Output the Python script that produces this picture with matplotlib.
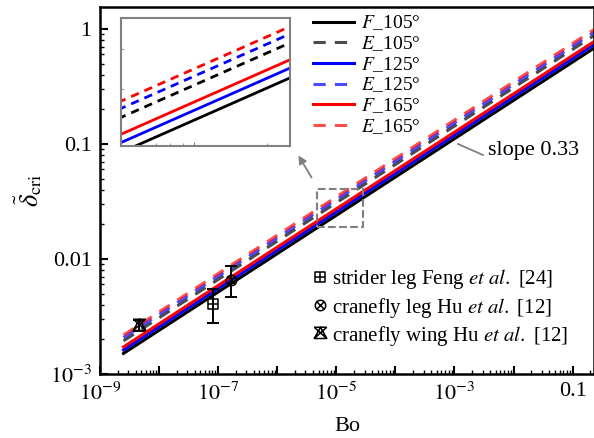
import numpy as np
import matplotlib
matplotlib.use('Agg')
import matplotlib.pyplot as plt
from matplotlib.path import Path
from matplotlib.patches import Rectangle, FancyArrowPatch
from matplotlib.ticker import LogLocator, NullFormatter

plt.rcParams['font.family'] = ['Liberation Serif', 'DejaVu Serif']
plt.rcParams['mathtext.fontset'] = 'stix'
plt.rcParams['font.size'] = 15

# ---- data ----
bo_line = [2.5e-9, 0.23]           # Bo range of the model lines
F_105 = [1.51e-3, 0.680]
E_105 = [1.94e-3, 0.876]
F_125 = [1.62e-3, 0.730]
E_125 = [2.07e-3, 0.934]
F_165 = [1.72e-3, 0.775]
E_165 = [2.18e-3, 0.986]

# experiments: Bo, delta, error bar low/high
strider_bo, strider_d = [8.1e-8], [4.1e-3]
strider_err = [[4.1e-3 - 2.8e-3], [5.5e-3 - 4.1e-3]]
legs_bo, legs_d = [1.66e-7], [6.5e-3]
legs_err = [[6.5e-3 - 4.7e-3], [8.6e-3 - 6.5e-3]]
wing_bo, wing_d = [4.5e-9], [2.65e-3]
wing_err = [[2.65e-3 - 2.35e-3], [2.95e-3 - 2.65e-3]]

x_labels = ['$10^{-9}$', '$10^{-7}$', '$10^{-5}$', '$10^{-3}$', '0.1']
y_major = [1e-3, 1e-2, 1e-1, 1]
y_labels = ['$10^{-3}$', '0.01', '0.1', '1']

# zoom box shown in the inset
box_x = [4.73e-6, 2.78e-5]
box_y = [0.0191, 0.0407]
inset_x = [5e-6, 2.5e-5]
inset_y = [0.0199, 0.050]

series = [
    (F_105, 'k', '-', r'$F$_105°'),
    (E_105, 'k', '--', r'$E$_105°'),
    (F_125, 'b', '-', r'$F$_125°'),
    (E_125, 'b', '--', r'$E$_125°'),
    (F_165, 'r', '-', r'$F$_165°'),
    (E_165, 'r', '--', r'$E$_165°'),
]

# ---- custom markers ----
def square_plus():
    v = [(-1, -1), (1, -1), (1, 1), (-1, 1), (-1, -1),
         (-1, 0), (1, 0), (0, -1), (0, 1)]
    c = [Path.MOVETO, Path.LINETO, Path.LINETO, Path.LINETO, Path.CLOSEPOLY,
         Path.MOVETO, Path.LINETO, Path.MOVETO, Path.LINETO]
    return Path(v, c)

def circle_x():
    circ = Path.unit_circle()
    a = 0.707
    xs = Path([(-a, -a), (a, a), (-a, a), (a, -a)],
              [Path.MOVETO, Path.LINETO, Path.MOVETO, Path.LINETO])
    return Path.make_compound_path(circ, xs)

def tri_x():
    v = [(0, 1), (-1, -0.8), (1, -0.8), (0, 1),
         (-1, 1), (1, -0.8), (1, 1), (-1, -0.8), (-1, 1), (1, 1)]
    c = [Path.MOVETO, Path.LINETO, Path.LINETO, Path.CLOSEPOLY,
         Path.MOVETO, Path.LINETO, Path.MOVETO, Path.LINETO, Path.MOVETO, Path.LINETO]
    return Path(v, c)

fig = plt.figure(figsize=(5.94, 4.38), dpi=100)
ax = fig.add_axes([100 / 594, 1 - 374 / 438, 494 / 594, 367 / 438])

handles = []
for vals, col, ls, lab in series:
    if ls == '--':
        h, = ax.plot(bo_line, vals, color=col, ls=ls, lw=2.2, dashes=(4, 3), alpha=0.7, label=lab)
    else:
        h, = ax.plot(bo_line, vals, color=col, ls=ls, lw=2.2, label=lab)
    handles.append(h)

ekw = dict(fmt='none', ecolor='k', elinewidth=1.4, capsize=4, capthick=1.4)
ax.errorbar(strider_bo, strider_d, yerr=strider_err, **ekw)
ax.errorbar(legs_bo, legs_d, yerr=legs_err, **ekw)
ax.errorbar(wing_bo, wing_d, yerr=wing_err, **ekw)
m1, = ax.plot(strider_bo, strider_d, ls='none', marker=square_plus(), ms=6.5, mfc='none', mec='k', mew=1.1,
              label=r'strider leg Feng $et\ al.$ [24]')
m2, = ax.plot(legs_bo, legs_d, ls='none', marker=circle_x(), ms=7.5, mfc='none', mec='k', mew=1.1,
              label=r'cranefly leg Hu $et\ al.$ [12]')
m3, = ax.plot(wing_bo, wing_d, ls='none', marker=tri_x(), ms=9, mfc='none', mec='k', mew=1.1,
              label=r'cranefly wing Hu $et\ al.$ [12]')

ax.set_xscale('log')
ax.set_yscale('log')
ax.set_xlim(1e-9, 0.23)
ax.set_ylim(1e-3, 1.55)

ax.set_xticks([10.0 ** k for k in range(-9, 0)])
ax.set_xticklabels([x_labels[i // 2] if i % 2 == 0 else '' for i in range(9)])
ax.xaxis.set_minor_locator(LogLocator(base=10, subs=np.arange(2, 10), numticks=20))
ax.xaxis.set_minor_formatter(NullFormatter())

ax.set_yticks(y_major)
ax.set_yticklabels(y_labels)
ax.yaxis.set_minor_locator(LogLocator(base=10, subs=np.arange(2, 10), numticks=20))
ax.yaxis.set_minor_formatter(NullFormatter())

ax.tick_params(which='major', direction='in', length=6, width=1.5, labelsize=16, top=False, right=False, pad=6)
ax.tick_params(which='minor', direction='in', length=3, width=1.0, top=False, right=False)
for s in ax.spines.values():
    s.set_linewidth(1.8)

ax.set_xlabel('Bo', fontsize=16, labelpad=9)
ax.set_ylabel(r'$\tilde{\delta}_{\rm cri}$', fontsize=19, labelpad=4)

leg1 = ax.legend(handles=handles, loc='upper left', bbox_to_anchor=(305 / 594, 1 - 6 / 438),
                 bbox_transform=fig.transFigure, frameon=False, fontsize=14,
                 handlelength=2.1, handletextpad=0.4, labelspacing=0.1, borderaxespad=0)
ax.add_artist(leg1)
ax.legend(handles=[m1, m2, m3], loc='upper left', bbox_to_anchor=(304 / 594, 1 - 259 / 438),
          bbox_transform=fig.transFigure, frameon=False, fontsize=15,
          handlelength=0.7, handletextpad=0.25, labelspacing=0.2, borderaxespad=0)

# dashed zoom box
ax.add_patch(Rectangle((box_x[0], box_y[0]), box_x[1] - box_x[0], box_y[1] - box_y[0],
                       fill=False, ec='#808080', ls='--', lw=1.5, zorder=5))

# arrow from box to inset and slope note
fig.add_artist(FancyArrowPatch((313 / 594, 1 - 180 / 438), (297 / 594, 1 - 153 / 438),
                               transform=fig.transFigure, arrowstyle='-|>',
                               mutation_scale=12, color='#808080', lw=1.3))
fig.add_artist(plt.Line2D([458 / 594, 483 / 594], [1 - 144 / 438, 1 - 155 / 438],
                          transform=fig.transFigure, color='#808080', lw=1.3))
fig.text(488 / 594, 1 - 151 / 438, 'slope 0.33', fontsize=16, va='center', ha='left')

# inset
axin = fig.add_axes([121 / 594, 1 - 146 / 438, 169 / 594, 128 / 438])
for vals, col, ls, lab in series:
    if ls == '--':
        axin.plot(bo_line, vals, color=col, ls=ls, lw=2.0, dashes=(3, 2.2))
    else:
        axin.plot(bo_line, vals, color=col, ls=ls, lw=2.0)
axin.set_xscale('log')
axin.set_yscale('log')
axin.set_xlim(inset_x)
axin.set_ylim(inset_y)
axin.tick_params(which='both', direction='in', length=3, color='#808080',
                 labelbottom=False, labelleft=False)
axin.tick_params(which='minor', length=2)
axin.xaxis.set_minor_formatter(NullFormatter())
axin.yaxis.set_minor_formatter(NullFormatter())
for s in axin.spines.values():
    s.set_color('#808080')
    s.set_linewidth(1.5)

fig.savefig('out.png', dpi=100)
